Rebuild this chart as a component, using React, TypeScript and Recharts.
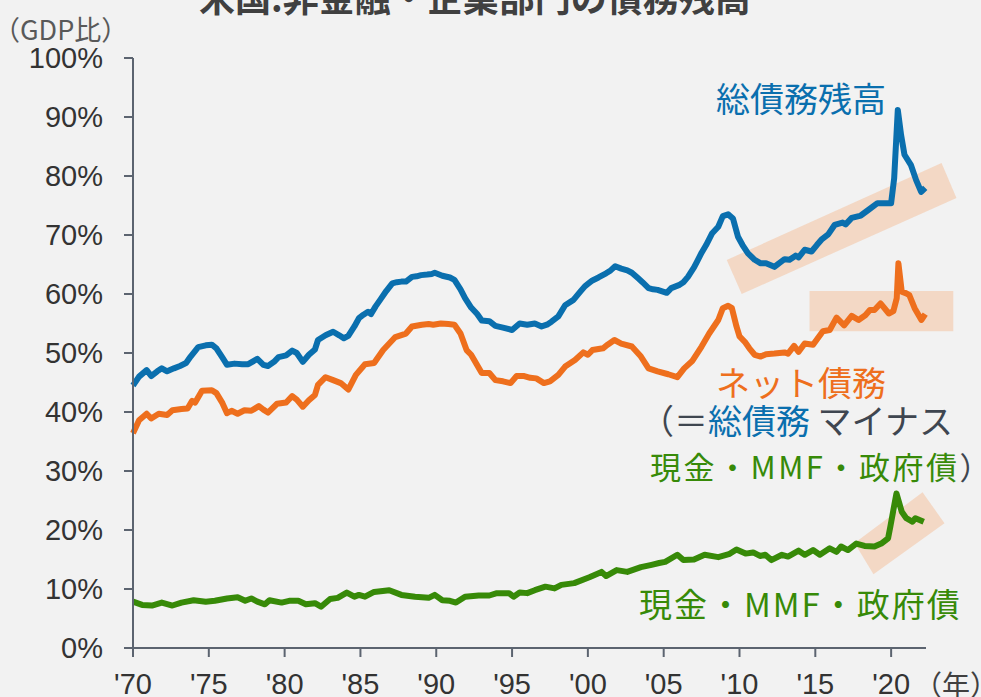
import React from 'react';
import { LineChart, Line, XAxis, YAxis, ReferenceArea } from 'recharts';

// 総債務残高 (GDP比, %)
const totalYears = [
  1970.0, 1970.4, 1970.9, 1971.2, 1971.6, 1971.9, 1972.25, 1972.7, 1973.1, 1973.5, 1973.8, 1974.3, 1974.8,
  1975.2, 1975.5, 1975.9, 1976.2, 1976.7, 1977.2, 1977.6, 1978.2, 1978.6, 1978.9, 1979.3, 1979.6, 1980.1,
  1980.5, 1980.8, 1981.2, 1981.6, 1982.0, 1982.2, 1982.7, 1983.2, 1983.6, 1983.9, 1984.2, 1984.6, 1984.9,
  1985.2, 1985.5, 1985.7, 1986.0, 1986.3, 1986.7, 1987.1, 1987.4, 1987.7, 1988.0, 1988.4, 1988.7, 1989.0,
  1989.4, 1989.7, 1989.9, 1990.4, 1990.9, 1991.2, 1991.6, 1991.9, 1992.3, 1992.7, 1993.0, 1993.5, 1993.9,
  1994.4, 1995.0, 1995.5, 1996.0, 1996.5, 1996.95, 1997.3, 1997.6, 1998.05, 1998.5, 1999.05, 1999.5, 1999.8,
  2000.0, 2000.3, 2000.7, 2001.2, 2001.5, 2001.8, 2002.2, 2002.6, 2002.9, 2003.3, 2003.6, 2004.0, 2004.3,
  2004.6, 2005.2, 2005.5, 2006.0, 2006.3, 2006.6, 2007.0, 2007.2, 2007.5, 2007.8, 2008.2, 2008.6, 2008.9,
  2009.25, 2009.57, 2009.9, 2010.2, 2010.56, 2011.0, 2011.4, 2011.75, 2012.3, 2012.6, 2012.97, 2013.3, 2013.7,
  2013.9, 2014.3, 2014.75, 2015.1, 2015.4, 2015.85, 2016.27, 2016.8, 2017.0, 2017.4, 2018.0, 2018.47, 2019.1,
  2019.55, 2020.0, 2020.2, 2020.44, 2020.66, 2020.88, 2021.3, 2021.65, 2021.98, 2022.25,
];
const totalValues = [
  44.5, 46.0, 47.1, 46.1, 46.9, 47.4, 46.9, 47.4, 47.8, 48.3, 49.4, 51.0, 51.3,
  51.4, 50.8, 49.2, 48.0, 48.2, 48.1, 48.1, 49.0, 48.0, 47.8, 48.5, 49.3, 49.6,
  50.4, 50.0, 48.5, 49.7, 50.6, 52.2, 53.0, 53.6, 53.0, 52.5, 52.9, 54.5, 55.9,
  56.5, 57.0, 56.6, 57.9, 59.0, 60.5, 61.8, 62.0, 62.1, 62.1, 62.9, 63.0, 63.2,
  63.3, 63.4, 63.6, 63.1, 62.8, 62.4, 60.8, 59.3, 57.7, 56.6, 55.5, 55.4, 54.6,
  54.3, 53.9, 55.0, 54.8, 55.0, 54.5, 54.8, 55.3, 56.2, 58.1, 59.0, 60.4, 61.3,
  61.7, 62.3, 62.8, 63.5, 64.0, 64.7, 64.3, 64.0, 63.6, 62.7, 62.0, 61.0, 60.8,
  60.7, 60.2, 61.0, 61.5, 62.0, 62.9, 64.5, 65.5, 67.0, 68.3, 70.3, 71.4, 73.2,
  73.5, 72.8, 69.7, 68.3, 66.9, 65.8, 65.2, 65.2, 64.6, 65.2, 65.9, 65.8, 66.5,
  66.2, 67.5, 67.2, 68.3, 69.2, 70.1, 71.7, 72.1, 71.8, 72.9, 73.3, 74.2, 75.4,
  75.4, 75.4, 79.6, 91.2, 86.9, 83.6, 81.9, 79.3, 77.3, 78.0,
];

// ネット債務
const netYears = [
  1970.0, 1970.4, 1970.9, 1971.2, 1971.7, 1972.25, 1972.6, 1973.2, 1973.6, 1973.9, 1974.1, 1974.55, 1975.2,
  1975.5, 1975.9, 1976.2, 1976.5, 1976.9, 1977.35, 1977.8, 1978.3, 1978.6, 1978.9, 1979.5, 1980.1, 1980.5,
  1980.8, 1981.2, 1981.6, 1982.0, 1982.2, 1982.7, 1983.2, 1983.7, 1984.2, 1984.7, 1985.3, 1985.9, 1986.5,
  1987.3, 1988.0, 1988.4, 1989.05, 1989.5, 1989.8, 1990.3, 1990.8, 1991.2, 1991.6, 1992.0, 1992.3, 1993.0,
  1993.5, 1993.9, 1994.4, 1994.9, 1995.3, 1995.8, 1996.2, 1996.6, 1997.1, 1997.5, 1998.05, 1998.5, 1999.15,
  1999.7, 2000.0, 2000.3, 2001.0, 2001.3, 2001.75, 2002.2, 2002.9, 2003.5, 2004.0, 2004.6, 2005.3, 2005.9,
  2006.35, 2006.9, 2007.5, 2008.0, 2008.6, 2008.9, 2009.25, 2009.5, 2009.8, 2010.0, 2010.35, 2010.65, 2011.0,
  2011.4, 2011.75, 2012.3, 2012.97, 2013.2, 2013.6, 2013.9, 2014.3, 2014.85, 2015.5, 2015.95, 2016.4, 2016.9,
  2017.4, 2017.85, 2018.3, 2018.6, 2018.9, 2019.3, 2019.85, 2020.15, 2020.37, 2020.48, 2020.7, 2021.0, 2021.2,
  2021.55, 2022.0, 2022.25,
];
const netValues = [
  36.4, 38.6, 39.7, 38.9, 39.7, 39.5, 40.3, 40.5, 40.6, 41.9, 41.6, 43.6, 43.7,
  43.2, 41.5, 39.8, 40.2, 39.7, 40.3, 40.2, 41.0, 40.4, 39.9, 41.4, 41.6, 42.7,
  42.1, 40.9, 42.0, 42.9, 44.6, 45.9, 45.4, 44.9, 43.8, 46.3, 48.1, 48.3, 50.5,
  52.7, 53.3, 54.5, 54.8, 54.9, 54.8, 55.0, 54.9, 54.8, 53.3, 50.5, 49.7, 46.6,
  46.6, 45.4, 45.2, 44.9, 46.1, 46.1, 45.8, 45.7, 44.9, 45.2, 46.3, 47.7, 48.8,
  50.1, 49.7, 50.5, 50.8, 51.4, 52.2, 51.6, 51.1, 49.4, 47.4, 46.9, 46.4, 45.9,
  47.4, 48.7, 51.1, 53.3, 55.6, 57.6, 58.0, 57.6, 54.5, 52.8, 51.9, 50.8, 49.7,
  49.4, 49.8, 49.9, 50.1, 49.9, 51.2, 50.2, 51.6, 51.4, 53.7, 53.9, 56.0, 54.7,
  56.3, 55.6, 56.4, 57.3, 57.3, 58.4, 56.7, 57.1, 59.3, 65.2, 60.4, 60.1, 59.8,
  57.6, 55.6, 56.6,
];

// 現金・MMF・政府債
const cashYears = [
  1970.0, 1970.6, 1971.25, 1971.9, 1972.6, 1973.2, 1974.0, 1974.8, 1975.4, 1976.2, 1976.9, 1977.4, 1977.8,
  1978.2, 1978.7, 1979.0, 1979.8, 1980.3, 1980.9, 1981.4, 1982.0, 1982.4, 1983.0, 1983.5, 1984.1, 1984.6,
  1984.9, 1985.3, 1985.9, 1986.9, 1987.7, 1988.6, 1989.5, 1989.9, 1990.4, 1990.9, 1991.3, 1991.9, 1992.8,
  1993.5, 1994.0, 1994.8, 1995.1, 1995.5, 1996.0, 1996.5, 1997.2, 1997.8, 1998.25, 1999.1, 2000.1, 2000.9,
  2001.2, 2001.9, 2002.6, 2003.5, 2004.2, 2004.7, 2005.1, 2005.9, 2006.3, 2007.0, 2007.7, 2008.6, 2009.3,
  2009.8, 2010.4, 2010.9, 2011.35, 2011.7, 2012.1, 2012.8, 2013.2, 2013.9, 2014.3, 2014.85, 2015.3, 2015.95,
  2016.4, 2016.7, 2017.15, 2017.7, 2018.25, 2018.9, 2019.35, 2019.8, 2019.95, 2020.35, 2020.7, 2021.0, 2021.4,
  2021.6, 2022.15,
];
const cashValues = [
  7.85, 7.3, 7.2, 7.7, 7.2, 7.7, 8.1, 7.85, 8.0, 8.4, 8.6, 8.0, 8.4,
  7.85, 7.4, 8.1, 7.7, 8.0, 8.0, 7.4, 7.6, 7.0, 8.3, 8.5, 9.4, 8.7,
  9.0, 8.7, 9.5, 9.8, 9.0, 8.7, 8.5, 9.0, 8.1, 8.0, 7.7, 8.7, 8.9,
  8.9, 9.3, 9.3, 8.7, 9.4, 9.3, 9.8, 10.4, 10.1, 10.7, 11.0, 12.0, 12.9,
  12.2, 13.2, 12.9, 13.7, 14.1, 14.4, 14.6, 15.8, 14.9, 15.0, 15.8, 15.4, 15.9,
  16.7, 16.0, 16.2, 15.6, 15.8, 14.9, 15.8, 15.5, 16.5, 15.8, 16.6, 15.8, 16.9,
  16.3, 17.2, 16.6, 17.7, 17.3, 17.2, 17.7, 18.6, 20.6, 26.2, 23.1, 22.0, 21.4,
  22.0, 21.4,
];

const yearTicks = [1970, 1975, 1980, 1985, 1990, 1995, 2000, 2005, 2010, 2015, 2020];
const pctTicks = [0, 10, 20, 30, 40, 50, 60, 70, 80, 90, 100];

const toPoints = (xs: number[], ys: number[]) => xs.map((x, i) => ({ year: x, v: ys[i] }));

const BLUE = '#0a6fae';
const ORANGE = '#ee6f1d';
const GREEN = '#378a08';
const GRAY = '#3f4650';
const AXIS = '#5c6470';
const BAND = '#f4b183';

const JP = '"Noto Sans CJK JP", "Noto Sans", sans-serif';
const NUM = '"Liberation Sans", Arial, sans-serif';

// rotated highlight band drawn inside the ReferenceArea's bounding box
const band = (corners: number[][]) => (p: any) => {
  const pts = corners.map(([fx, fy]) => `${p.x + fx * p.width},${p.y + fy * p.height}`).join(' ');
  return <polygon points={pts} fill={BAND} fillOpacity={0.4} />;
};

function Label({ x, y, size, children, bold, spacing }: { x: number; y: number; size: number; children: React.ReactNode; bold?: boolean; spacing?: number }) {
  return (
    <div
      style={{
        position: 'absolute',
        left: x,
        top: y - size / 2,
        fontSize: size,
        lineHeight: `${size}px`,
        fontFamily: JP,
        fontWeight: bold ? 700 : 400,
        letterSpacing: spacing ?? 0,
        whiteSpace: 'nowrap',
      }}
    >
      {children}
    </div>
  );
}

export default function App() {
  const tickStyle = { fontSize: 29, fill: '#333', fontFamily: NUM };
  return (
    <div style={{ position: 'absolute', left: 0, top: 0, width: 981, height: 697, background: '#f2f2f2', overflow: 'hidden' }}>
      <LineChart width={981} height={697} margin={{ top: 58, right: 55, bottom: 0, left: 0 }}>
        <XAxis
          type="number"
          dataKey="year"
          domain={[1970, 2022.3]}
          ticks={yearTicks}
          tickFormatter={(v) => `'${String(v).slice(2)}`}
          height={49}
          tickSize={9}
          tickMargin={16}
          tick={tickStyle}
          axisLine={{ stroke: AXIS, strokeWidth: 2 }}
          tickLine={{ stroke: AXIS, strokeWidth: 2 }}
          allowDuplicatedCategory={false}
        />
        <YAxis
          type="number"
          domain={[0, 100]}
          ticks={pctTicks}
          tickFormatter={(v) => `${v}%`}
          width={133}
          tickSize={9}
          tickMargin={21}
          tick={tickStyle}
          axisLine={{ stroke: AXIS, strokeWidth: 2 }}
          tickLine={{ stroke: AXIS, strokeWidth: 2 }}
        />
        <Line data={toPoints(totalYears, totalValues)} dataKey="v" stroke={BLUE} strokeWidth={6} dot={false} isAnimationActive={false} strokeLinejoin="round" />
        <Line data={toPoints(netYears, netValues)} dataKey="v" stroke={ORANGE} strokeWidth={6} dot={false} isAnimationActive={false} strokeLinejoin="round" />
        <Line data={toPoints(cashYears, cashValues)} dataKey="v" stroke={GREEN} strokeWidth={6} dot={false} isAnimationActive={false} strokeLinejoin="round" />
        <ReferenceArea
          x1={2009.16}
          x2={2024.31}
          y1={60.0}
          y2={82.2}
          ifOverflow="visible"
          shape={band([[0, 0.74], [0.935, 0], [1, 0.267], [0.065, 1]])}
        />
        <ReferenceArea x1={2014.62} x2={2024.1} y1={53.7} y2={60.5} ifOverflow="visible" fill={BAND} fillOpacity={0.4} />
        <ReferenceArea
          x1={2017.59}
          x2={2023.52}
          y1={12.5}
          y2={26.4}
          ifOverflow="visible"
          shape={band([[0, 0.62], [0.756, 0], [1, 0.378], [0.21, 1]])}
        />
      </LineChart>

      <Label x={199} y={-4} size={36} bold>
        <span style={{ color: '#404040' }}>米国:非金融・企業部門の債務残高</span>
      </Label>
      <Label x={-7} y={28} size={27}>
        <span style={{ color: '#595959' }}>（GDP比）</span>
      </Label>
      <Label x={914} y={684} size={28}>
        <span style={{ color: '#404040' }}>（年）</span>
      </Label>

      <Label x={716} y={98} size={34}>
        <span style={{ color: BLUE }}>総債務残高</span>
      </Label>
      <Label x={716} y={382} size={34}>
        <span style={{ color: ORANGE }}>ネット債務</span>
      </Label>
      <Label x={640} y={420} size={34}>
        <span style={{ color: GRAY }}>（＝</span>
        <span style={{ color: BLUE }}>総債務</span>
        <span style={{ color: GRAY }}> マイナス</span>
      </Label>
      <Label x={650} y={465} size={31} spacing={2.5}>
        <span style={{ color: GREEN }}>現金・MMF・政府債</span>
        <span style={{ color: GRAY }}>）</span>
      </Label>
      <Label x={639} y={603} size={33} spacing={2}>
        <span style={{ color: GREEN }}>現金・MMF・政府債</span>
      </Label>
    </div>
  );
}
